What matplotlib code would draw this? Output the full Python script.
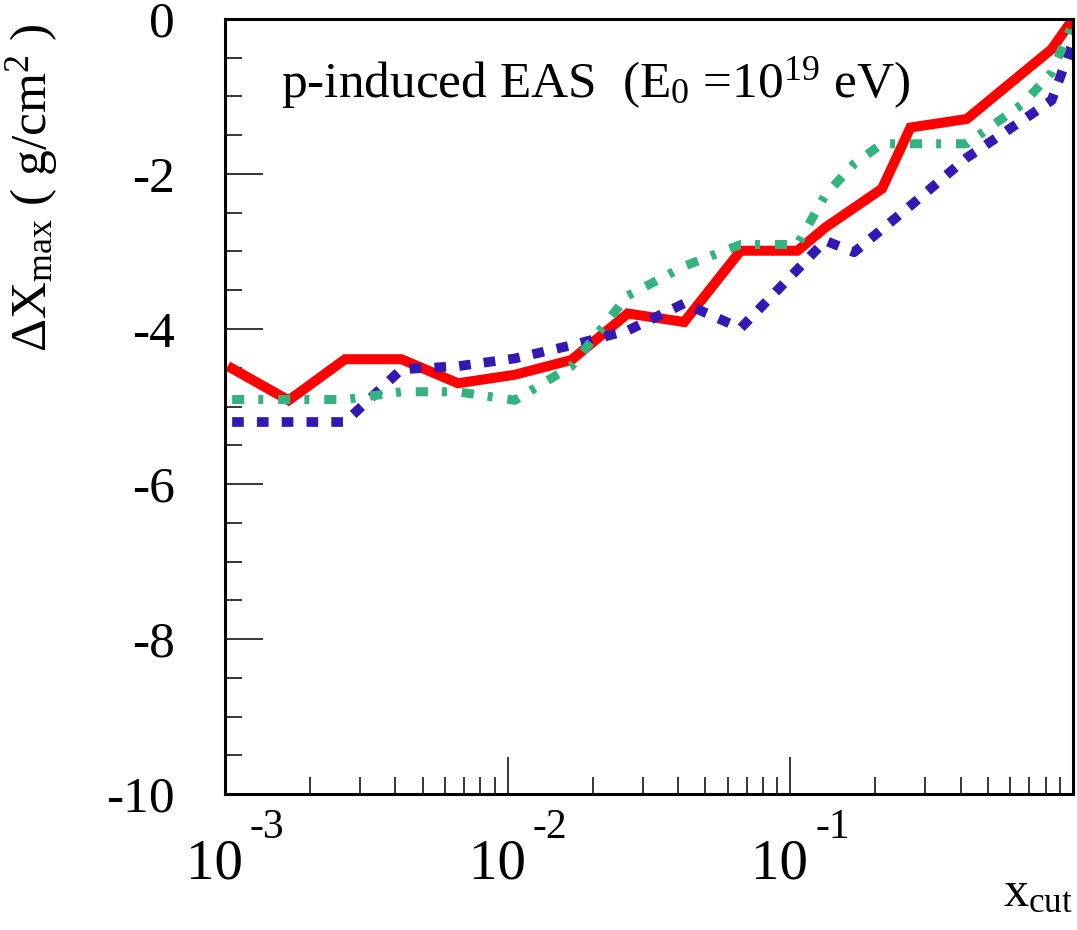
import numpy as np
import matplotlib
matplotlib.use('Agg')
import matplotlib.pyplot as plt
from matplotlib.ticker import MultipleLocator, LogLocator, NullFormatter

plt.rcParams['font.family'] = ['Liberation Serif', 'DejaVu Serif']
plt.rcParams['mathtext.fontset'] = 'custom'
plt.rcParams['mathtext.rm'] = 'Liberation Serif'
plt.rcParams['mathtext.it'] = 'Liberation Serif:italic'

# x_cut values (log grid) and Delta X_max for the three curves
x_red = [1.06e-3, 1.68e-3, 2.66e-3, 4.21e-3, 6.67e-3, 1.06e-2, 1.68e-2, 2.66e-2,
         4.21e-2, 6.67e-2, 0.106, 0.133, 0.211, 0.266, 0.421, 0.84, 1.0]
y_red = [-4.51, -4.92, -4.39, -4.39, -4.70, -4.59, -4.40, -3.80,
         -3.91, -2.99, -2.99, -2.69, -2.19, -1.40, -1.29, -0.39, 0.0]

x_blue = [1.06e-3, 2.66e-3, 4.21e-3, 6.67e-3, 1.06e-2, 1.68e-2, 2.66e-2, 4.21e-2,
          6.67e-2, 0.133, 0.168, 0.266, 0.421, 0.667, 0.84, 1.0]
y_blue = [-5.20, -5.20, -4.52, -4.48, -4.38, -4.21, -4.02, -3.67,
          -3.99, -2.86, -3.01, -2.41, -1.79, -1.30, -1.05, -0.30]

x_green = [1.06e-3, 2.66e-3, 4.21e-3, 6.67e-3, 1.06e-2, 1.68e-2, 2.66e-2, 4.21e-2,
           6.67e-2, 0.106, 0.133, 0.168, 0.211, 0.421, 0.667, 0.84, 1.0]
y_green = [-4.91, -4.91, -4.81, -4.81, -4.92, -4.48, -3.57, -3.19,
           -2.91, -2.91, -2.27, -1.87, -1.61, -1.61, -1.09, -0.69, -0.05]

decades = [1e-3, 1e-2, 1e-1]
decade_exp = ['-3', '-2', '-1']
y_ticks = [0, -2, -4, -6, -8, -10]

fig = plt.figure(figsize=(10.77, 9.30), dpi=100)
ax = fig.add_axes([0.2089, 0.1462, 0.7874, 0.8334])

ax.plot(x_red, y_red, color='#ff0000', lw=7.2, solid_joinstyle='miter')
ax.plot(x_blue, y_blue, color='#3319b2', lw=7, dashes=(1.2, 1.35),
        dash_capstyle='butt')
ax.plot(x_green, y_green, color='#33b380', lw=6.5, dashes=(1.35, 1.55, 0.55, 1.65),
        dash_capstyle='butt')

ax.set_xscale('log')
ax.set_xlim(1e-3, 1.0)
ax.set_ylim(-10, 0)

ax.yaxis.set_major_locator(MultipleLocator(2))
ax.yaxis.set_minor_locator(MultipleLocator(0.5))
ax.set_yticks(y_ticks)
ax.set_yticklabels([str(t) for t in y_ticks])
ax.xaxis.set_major_locator(LogLocator(base=10, numticks=10))
ax.xaxis.set_minor_locator(LogLocator(base=10, subs=np.arange(2, 10), numticks=20))
ax.xaxis.set_major_formatter(NullFormatter())
ax.xaxis.set_minor_formatter(NullFormatter())

ax.tick_params(which='major', direction='in', length=27, width=1.1,
               top=False, right=False, labelsize=37, pad=36)
ax.tick_params(which='minor', direction='in', length=12.5, width=1.1,
               top=False, right=False)
for sp in ax.spines.values():
    sp.set_linewidth(2.2)

# ROOT-style decade labels: "10" with raised exponent
for d, e in zip(decades, decade_exp):
    ax.annotate('10', xy=(d, 0), xycoords=('data', 'axes fraction'),
                xytext=(18, -84), textcoords='offset pixels',
                ha='right', va='baseline', fontsize=41)
    ax.annotate(e, xy=(d, 0), xycoords=('data', 'axes fraction'),
                xytext=(25, -44), textcoords='offset pixels',
                ha='left', va='baseline', fontsize=30)

ax.text(0.066, 0.899, r'p-induced EAS  (E$_{0}$ =10$^{19}$ eV)',
        transform=ax.transAxes, fontsize=37, ha='left', va='baseline')

ax.text(1.0, -0.145, r'x$_{\mathrm{cut}}$', transform=ax.transAxes,
        fontsize=36, ha='right', va='baseline')

fig.text(0.004, 0.975, r'ΔX$_{\mathrm{max}}$ ( g/cm$^{2}$ )', rotation=90,
         fontsize=37, ha='left', va='top')

fig.savefig('out.png', dpi=100)
